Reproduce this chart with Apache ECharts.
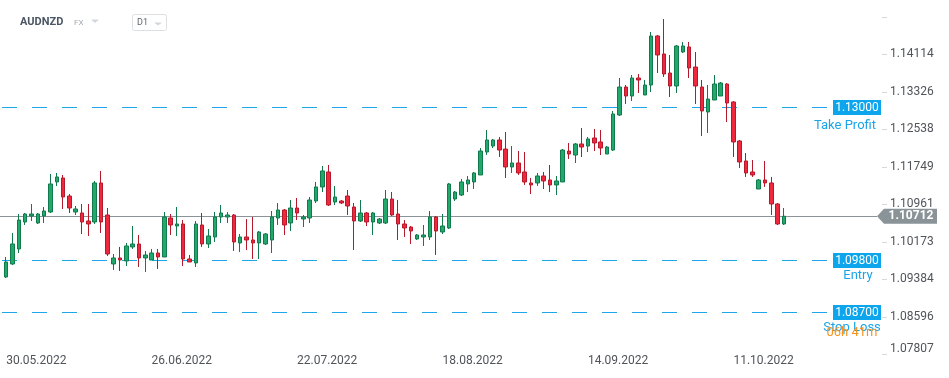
<!DOCTYPE html>
<html>
<head>
<meta charset="utf-8">
<title>AUDNZD D1</title>
<script src="https://cdn.jsdelivr.net/npm/echarts@6/dist/echarts.min.js"></script>
<style>
  html, body { margin: 0; padding: 0; background: #fff; }
  #chart { width: 949px; height: 378px; }
</style>
</head>
<body>
<div id="chart"></div>
<script>
// daily candles [open, close, low, high], first one is 30.05.2022
const candles = [
  [1.09436, 1.09751, 1.09415, 1.09856], [1.09709, 1.10129, 1.09688, 1.10360],
  [1.10024, 1.10633, 1.09940, 1.10759], [1.10591, 1.10759, 1.10528, 1.10780],
  [1.10717, 1.10759, 1.10612, 1.10969], [1.10570, 1.10759, 1.10549, 1.10780],
  [1.10717, 1.10822, 1.10570, 1.10906], [1.10801, 1.11390, 1.10780, 1.11600],
  [1.11432, 1.11537, 1.11348, 1.11621], [1.11516, 1.11116, 1.10864, 1.11579],
  [1.11137, 1.10885, 1.10780, 1.11179], [1.10801, 1.10864, 1.10738, 1.10927],
  [1.10780, 1.10591, 1.10339, 1.10969], [1.10612, 1.10549, 1.10297, 1.10969],
  [1.10591, 1.11411, 1.10549, 1.11453], [1.11411, 1.10591, 1.10360, 1.11663],
  [1.10738, 1.09919, 1.09877, 1.10885], [1.09709, 1.09835, 1.09583, 1.09919],
  [1.09835, 1.09793, 1.09562, 1.10066], [1.09772, 1.10087, 1.09667, 1.10150],
  [1.10066, 1.10129, 1.10024, 1.10507], [1.10129, 1.09835, 1.09646, 1.10318],
  [1.09835, 1.09898, 1.09541, 1.09982], [1.09793, 1.09940, 1.09793, 1.10024],
  [1.09940, 1.09856, 1.09604, 1.10024], [1.09856, 1.10696, 1.09856, 1.10801],
  [1.10675, 1.10528, 1.10318, 1.10759], [1.10507, 1.10549, 1.10297, 1.10906],
  [1.10549, 1.09814, 1.09667, 1.10633], [1.09814, 1.09751, 1.09751, 1.09898],
  [1.09730, 1.10549, 1.09646, 1.10612], [1.10528, 1.10129, 1.10066, 1.10780],
  [1.10129, 1.10297, 1.10045, 1.10444], [1.10276, 1.10696, 1.10171, 1.10801],
  [1.10696, 1.10780, 1.10570, 1.10948], [1.10696, 1.10738, 1.10570, 1.10801],
  [1.10738, 1.10171, 1.09982, 1.10759], [1.10150, 1.10276, 1.09961, 1.10339],
  [1.10276, 1.10213, 1.10003, 1.10654], [1.10213, 1.10150, 1.09814, 1.10696],
  [1.10150, 1.10381, 1.09814, 1.10402], [1.10129, 1.10339, 1.10108, 1.10360],
  [1.10213, 1.10696, 1.09940, 1.10822], [1.10675, 1.10843, 1.10528, 1.10990],
  [1.10843, 1.10528, 1.10318, 1.10864], [1.10570, 1.10885, 1.10402, 1.11053],
  [1.10885, 1.10780, 1.10633, 1.11095], [1.10654, 1.10696, 1.10486, 1.10738],
  [1.10675, 1.11053, 1.10570, 1.11116], [1.11032, 1.11327, 1.10990, 1.11432],
  [1.11327, 1.11663, 1.11221, 1.11768], [1.11642, 1.10948, 1.10927, 1.11789],
  [1.11011, 1.11116, 1.10948, 1.11348], [1.11032, 1.10990, 1.10969, 1.11053],
  [1.11137, 1.10927, 1.10738, 1.11263], [1.10906, 1.10612, 1.10003, 1.10990],
  [1.10612, 1.10780, 1.10591, 1.11053], [1.10780, 1.10591, 1.10507, 1.10801],
  [1.10591, 1.10780, 1.10318, 1.10801], [1.10570, 1.10654, 1.10549, 1.10675],
  [1.10570, 1.11074, 1.10549, 1.11263], [1.11074, 1.10738, 1.10717, 1.11221],
  [1.10759, 1.10549, 1.10213, 1.11053], [1.10549, 1.10465, 1.10276, 1.10633],
  [1.10486, 1.10402, 1.10129, 1.10507], [1.10234, 1.10318, 1.10213, 1.10339],
  [1.10276, 1.10318, 1.10087, 1.10528], [1.10276, 1.10696, 1.10213, 1.10822],
  [1.10696, 1.10402, 1.09898, 1.10717], [1.10381, 1.10507, 1.10339, 1.10759],
  [1.10465, 1.11390, 1.10444, 1.11411], [1.11074, 1.11221, 1.11032, 1.11242],
  [1.11158, 1.11432, 1.11137, 1.11495], [1.11390, 1.11474, 1.11221, 1.11558],
  [1.11432, 1.11621, 1.11284, 1.11642], [1.11579, 1.12082, 1.11579, 1.12145],
  [1.12061, 1.12314, 1.11998, 1.12524], [1.12187, 1.12314, 1.12145, 1.12335],
  [1.12314, 1.12103, 1.11956, 1.12377], [1.12124, 1.11747, 1.11516, 1.12482],
  [1.11747, 1.11831, 1.11621, 1.12187], [1.11831, 1.11621, 1.11579, 1.12082],
  [1.11642, 1.11432, 1.11369, 1.12061], [1.11411, 1.11369, 1.11179, 1.11516],
  [1.11411, 1.11558, 1.11348, 1.11621], [1.11558, 1.11453, 1.11284, 1.11642],
  [1.11474, 1.11369, 1.11221, 1.11789], [1.11369, 1.11453, 1.11158, 1.11558],
  [1.11432, 1.12103, 1.11432, 1.12124], [1.12082, 1.12019, 1.11914, 1.12251],
  [1.11998, 1.12230, 1.11831, 1.12251], [1.12230, 1.12166, 1.11956, 1.12566],
  [1.12187, 1.12335, 1.12061, 1.12377], [1.12356, 1.12251, 1.12082, 1.12545],
  [1.12272, 1.12145, 1.11998, 1.12524], [1.12019, 1.12166, 1.12019, 1.12187],
  [1.12103, 1.12860, 1.12082, 1.12923], [1.12839, 1.13427, 1.12818, 1.13616],
  [1.13427, 1.13238, 1.13070, 1.13469], [1.13238, 1.13616, 1.13133, 1.13679],
  [1.13616, 1.13574, 1.13301, 1.13700], [1.13259, 1.13469, 1.13259, 1.13574],
  [1.13469, 1.14499, 1.13322, 1.14583], [1.14499, 1.14100, 1.13721, 1.14520],
  [1.14121, 1.13700, 1.13637, 1.14856], [1.13721, 1.13448, 1.13217, 1.14100],
  [1.13448, 1.14289, 1.13301, 1.14310], [1.14163, 1.14289, 1.14142, 1.14373],
  [1.14268, 1.13826, 1.13616, 1.14373], [1.13847, 1.13448, 1.13070, 1.14163],
  [1.13427, 1.12923, 1.12398, 1.13574], [1.12902, 1.13175, 1.12461, 1.13469],
  [1.13154, 1.13490, 1.13154, 1.13679], [1.13238, 1.13511, 1.13238, 1.13532],
  [1.13490, 1.13091, 1.12692, 1.13511], [1.13112, 1.12272, 1.11956, 1.13133],
  [1.12293, 1.11852, 1.11726, 1.12314], [1.11873, 1.11621, 1.11537, 1.12040],
  [1.11642, 1.11579, 1.11537, 1.11894], [1.11284, 1.11474, 1.11284, 1.11495],
  [1.11474, 1.11411, 1.11327, 1.11873], [1.11411, 1.10969, 1.10738, 1.11537],
  [1.10969, 1.10549, 1.10528, 1.10990], [1.10549, 1.10712, 1.10528, 1.10885]
];

const xTickLabels = ['30.05.2022', '26.06.2022', '22.07.2022', '18.08.2022', '14.09.2022', '11.10.2022'];
const yTickLabels = ['1.07807', '1.08596', '1.09384', '1.10173', '1.10961', '1.11749', '1.12538', '1.13326', '1.14114'];

const lastPrice = 1.10712;
const levelValues = [1.13000, 1.09800, 1.08700];
const levelNames = ['Take Profit', 'Entry', 'Stop Loss'];
const countdown = '06h 41m';

// trading days (Saturdays skipped), plus empty slots for the right margin
function pad(n) { return (n < 10 ? '0' : '') + n; }
const dates = [];
const d = new Date(2022, 4, 30);
while (dates.length < candles.length) {
  if (d.getDay() !== 6) dates.push(pad(d.getDate()) + '.' + pad(d.getMonth() + 1) + '.' + d.getFullYear());
  d.setDate(d.getDate() + 1);
}
const categories = dates.slice();
while (categories.length < 139) categories.push('');

const FONT = 'Roboto, "Noto Sans", sans-serif';
const chart = echarts.init(document.getElementById('chart'), null, { renderer: 'canvas' });

chart.setOption({
  animation: false,
  grid: { left: 3, right: 67, top: 0, bottom: 23.5 },
  xAxis: {
    type: 'category',
    data: categories,
    boundaryGap: true,
    axisLine: { show: false },
    axisTick: { show: false },
    splitLine: { show: false },
    axisLabel: {
      interval: (idx, val) => xTickLabels.indexOf(val) >= 0,
      align: 'left',
      margin: 0,
      color: '#505459',
      fontSize: 12,
      fontFamily: FONT
    }
  },
  yAxis: {
    type: 'value',
    position: 'right',
    min: 1.07807,
    max: 1.15255,
    interval: 0.00788375,
    axisLine: { show: false },
    axisTick: { show: true, length: 5, lineStyle: { color: '#d6d9dc' } },
    splitLine: { show: false },
    axisLabel: {
      margin: 8,
      color: '#505459',
      fontSize: 12,
      fontFamily: FONT,
      showMaxLabel: false,
      verticalAlignMinLabel: 'bottom',
      formatter: function (v) {
        for (const t of yTickLabels) {
          if (Math.abs(parseFloat(t) - v) < 0.002) return t;
        }
        return '';
      }
    }
  },
  series: [{
    type: 'candlestick',
    data: candles,
    barWidth: 4,
    itemStyle: {
      color: '#23a86c',
      color0: '#f0283e',
      borderColor: '#117a4c',
      borderColor0: '#b51a2c',
      borderWidth: 1
    }
  }]
});

// overlays positioned through the value axis
const yOf = v => chart.convertToPixel({ yAxisIndex: 0 }, v);
const els = [];
const BLUE = '#1fa6ea';

const labelDy = [18, 15, 15];
const labelX = [845, 858, 852];
levelValues.forEach((v, i) => {
  const y = Math.round(yOf(v)) + 0.5;
  // dashes drawn as separate short solid segments
  for (let x = 2, k = 0; x < 798; x += 30, k++) {
    els.push({ type: 'line', id: 'dash' + i + '_' + k, shape: { x1: x, y1: y, x2: Math.min(x + 15, 798), y2: y }, style: { stroke: BLUE, lineWidth: 1 } });
  }
  els.push({ type: 'line', id: 'stub' + i, shape: { x1: 812, y1: y, x2: 827, y2: y }, style: { stroke: BLUE, lineWidth: 1 } });
  els.push({ type: 'rect', id: 'box' + i, shape: { x: 833, y: y - 7.5, width: 48, height: 15 }, style: { fill: '#0da6ec' } });
  els.push({ type: 'text', id: 'val' + i, x: 857, y: y, style: { text: v.toFixed(5), fill: '#fff', font: '12px ' + FONT, align: 'center', verticalAlign: 'middle' } });
  els.push({ type: 'text', id: 'name' + i, x: labelX[i], y: y + labelDy[i], style: { text: levelNames[i], fill: '#1ca4e8', font: '13px ' + FONT, align: 'center', verticalAlign: 'middle' } });
});
els.push({ type: 'text', id: 'countdown', x: 852, y: yOf(levelValues[2]) + 21, style: { text: countdown, fill: '#f7931e', font: '13px ' + FONT, align: 'center', verticalAlign: 'middle' } });

// current price line and tag
const py = yOf(lastPrice);
const pyc = Math.round(py) + 0.5;
els.push({ type: 'line', id: 'pline', shape: { x1: 0, y1: pyc, x2: 877, y2: pyc }, style: { stroke: '#8a9398', lineWidth: 1 } });
els.push({ type: 'polygon', id: 'ptag', shape: { points: [[877, py], [884, py - 7.5], [937, py - 7.5], [937, py + 7.5], [884, py + 7.5]] }, style: { fill: '#8a9398' } });
els.push({ type: 'text', id: 'pval', x: 911, y: py, style: { text: lastPrice.toFixed(5), fill: '#fff', font: 'bold 12px ' + FONT, align: 'center', verticalAlign: 'middle' } });

// header
els.push({ type: 'text', id: 'sym', x: 20, y: 22, style: { text: 'AUDNZD', fill: '#4a5663', font: 'bold 11px ' + FONT, verticalAlign: 'middle' } });
els.push({ type: 'text', id: 'fx', x: 74, y: 23, style: { text: 'FX', fill: '#a3abb3', font: '8px ' + FONT, verticalAlign: 'middle' } });
els.push({ type: 'polygon', id: 'fxArrow', shape: { points: [[91, 19.5], [99, 19.5], [95, 23]] }, style: { fill: '#d3d7db' } });
els.push({ type: 'rect', id: 'tfBox', shape: { x: 132.5, y: 14.5, width: 34, height: 16, r: 2 }, style: { fill: '#fff', stroke: '#dde0e3', lineWidth: 1 } });
els.push({ type: 'text', id: 'tf', x: 137, y: 23, style: { text: 'D1', fill: '#5b6670', font: '9px ' + FONT, verticalAlign: 'middle' } });
els.push({ type: 'polygon', id: 'tfArrow', shape: { points: [[154, 22.5], [162, 22.5], [158, 25.5]] }, style: { fill: '#d3d7db' } });

chart.setOption({ graphic: els });
</script>
</body>
</html>
